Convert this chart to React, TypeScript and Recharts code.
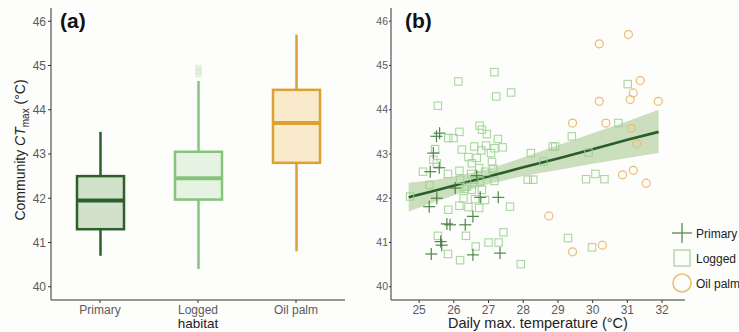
import { ComposedChart, Bar, XAxis, YAxis, Scatter, Area, Line } from 'recharts'

const FONT = '"Liberation Sans", Arial, sans-serif'

// panel (a): box plot per habitat
const habitats = ['Primary', 'Logged', 'Oil palm']
const whiskerLow = [40.7, 40.4, 40.8]
const lowerQuartile = [41.3, 41.97, 42.8]
const medians = [41.95, 42.45, 43.7]
const upperQuartile = [42.5, 43.05, 44.45]
const whiskerHigh = [43.5, 44.65, 45.7]
const outliers = [[], [44.8, 44.88, 44.95], []]
const ctTicks = [40, 41, 42, 43, 44, 45, 46]

const strokeColors = ['#2d5f2b', '#86c47b', '#dca132']
const fillColors = ['#d2e2ca', '#e7f3e2', '#f9eacb']

// panel (b): scatter vs daily max temperature
const primaryTemp = [25.59, 25.5, 25.41, 25.32, 25.58, 25.51, 25.29, 26.04, 26.66, 26.76, 27.28, 26.55, 25.8, 25.89, 26.33, 25.65, 25.62, 25.35, 26.55, 27.33]
const primaryCt = [43.47, 43.4, 43.02, 42.6, 42.69, 42.0, 41.81, 42.23, 42.51, 42.02, 42.02, 41.59, 41.42, 41.4, 41.4, 40.94, 41.02, 40.74, 40.72, 40.76]

const loggedTemp = [
  25.54, 26.16, 26.74, 26.81, 26.95, 25.84, 25.99, 27.27, 25.46, 26.23, 26.59, 26.79, 26.93, 27.17, 27.41,
  27.07, 26.42, 26.66, 25.41, 25.51, 26.52, 27.1, 26.73, 25.11, 25.83, 26.16, 26.5, 26.9, 27.14, 26.59,
  26.18, 25.3, 26.37, 26.76, 27.17, 28.22, 28.58, 28.13, 28.29, 28.85, 28.92, 29.4, 24.74, 26.31, 26.52,
  26.81, 26.28, 26.61, 26.9, 26.16, 26.42, 26.73, 25.84, 27.62, 27.43, 25.54, 26.35, 27.0, 27.29, 26.63,
  25.83, 26.18, 27.93, 29.29, 26.13, 27.17, 27.65, 27.22, 31.01, 30.74, 29.88, 29.81, 30.08, 30.34, 29.98,
]
const loggedCt = [
  44.09, 43.5, 43.64, 43.55, 43.45, 43.36, 43.36, 43.34, 43.11, 43.1, 43.17, 43.08, 43.19, 43.13, 43.15,
  43.02, 42.93, 42.91, 42.87, 42.79, 42.79, 42.82, 42.68, 42.6, 42.55, 42.62, 42.55, 42.6, 42.67, 42.42,
  42.42, 42.3, 42.26, 42.38, 42.39, 43.02, 42.83, 42.42, 42.42, 43.17, 43.17, 43.4, 42.04, 42.21, 42.19,
  42.19, 42.0, 41.98, 41.96, 41.83, 41.8, 41.78, 41.74, 41.81, 41.23, 41.15, 41.15, 41.0, 41.0, 40.91,
  40.74, 40.6, 40.51, 41.1, 44.64, 44.85, 44.39, 44.3, 44.58, 43.7, 43.03, 42.43, 42.55, 42.43, 40.89,
]

const oilTemp = [31.03, 30.19, 30.19, 31.37, 31.17, 31.08, 31.89, 29.42, 30.38, 31.11, 31.27, 30.86, 31.17, 31.54, 28.74, 29.42, 30.28]
const oilCt = [45.7, 45.49, 44.19, 44.66, 44.38, 44.23, 44.19, 43.7, 43.7, 43.58, 43.23, 42.53, 42.63, 42.34, 41.6, 40.79, 40.94]

// fitted line and confidence band
const bandTemp = [24.7, 25.5, 26.5, 27.0, 28.0, 29.0, 30.0, 31.0, 31.9]
const bandLow = [41.7, 41.93, 42.2, 42.32, 42.5, 42.64, 42.78, 42.91, 43.02]
const bandHigh = [42.35, 42.42, 42.57, 42.66, 42.92, 43.2, 43.47, 43.74, 44.0]
const fitCt = [42.02, 42.18, 42.39, 42.49, 42.7, 42.9, 43.11, 43.32, 43.5]
const tempTicks = [25, 26, 27, 28, 29, 30, 31, 32]

const legendNames = ['Primary', 'Logged', 'Oil palm']

const boxData = habitats.map((h, i) => ({
  habitat: h,
  lo: whiskerLow[i],
  q1: lowerQuartile[i],
  med: medians[i],
  q3: upperQuartile[i],
  hi: whiskerHigh[i],
  out: outliers[i],
}))

const primaryPts = primaryTemp.map((x, i) => ({ x, y: primaryCt[i] }))
const loggedPts = loggedTemp.map((x, i) => ({ x, y: loggedCt[i] }))
const oilPts = oilTemp.map((x, i) => ({ x, y: oilCt[i] }))
const bandData = bandTemp.map((x, i) => ({ x, low: bandLow[i], high: bandHigh[i], fit: fitCt[i] }))

const tickStyle = { fontSize: 12, fill: '#5b5b5b', fontFamily: FONT }

function BoxShape(props: any) {
  const { x, y, width, height, payload } = props
  const i = habitats.indexOf(payload.habitat)
  const ppu = height / (payload.q3 - payload.q1)
  const toY = (v: number) => y + (payload.q3 - v) * ppu
  const cx = x + width / 2
  const stroke = strokeColors[i]
  return (
    <g>
      <line x1={cx} x2={cx} y1={toY(payload.hi)} y2={y} stroke={stroke} strokeWidth={2.5} />
      <line x1={cx} x2={cx} y1={y + height} y2={toY(payload.lo)} stroke={stroke} strokeWidth={2.5} />
      <rect x={x} y={y} width={width} height={height} fill={fillColors[i]} stroke={stroke} strokeWidth={2.5} />
      <line x1={x} x2={x + width} y1={toY(payload.med)} y2={toY(payload.med)} stroke={stroke} strokeWidth={4} />
      {payload.out.map((v: number, k: number) => (
        <rect key={k} x={cx - 2.5} y={toY(v) - 2.5} width={5} height={5} fill="#dcefd6" stroke="#cbe6c4" strokeWidth={0.8} opacity={0.7} />
      ))}
    </g>
  )
}

function Cross(props: any) {
  const { cx, cy } = props
  return (
    <g stroke="#3c7a38" strokeWidth={1.2} opacity={0.9}>
      <line x1={cx - 6} x2={cx + 6} y1={cy} y2={cy} />
      <line x1={cx} x2={cx} y1={cy - 6} y2={cy + 6} />
    </g>
  )
}

function Square(props: any) {
  const { cx, cy } = props
  return <rect x={cx - 3.7} y={cy - 3.7} width={7.4} height={7.4} fill="none" stroke="#9bcf91" strokeWidth={1.1} opacity={0.85} />
}

function Ring(props: any) {
  const { cx, cy } = props
  return <circle cx={cx} cy={cy} r={4} fill="none" stroke="#ebbd6e" strokeWidth={1.2} />
}

function YTitle() {
  return (
    <text transform="translate(25,150) rotate(-90)" textAnchor="middle" fontSize={14} fill="#222" fontFamily={FONT}>
      Community <tspan fontStyle="italic">CT</tspan>
      <tspan fontSize={10} dy={4}>max</tspan>
      <tspan dy={-4}>{'  (°C)'}</tspan>
    </text>
  )
}

function LegendBox() {
  return (
    <svg width={80} height={76} style={{ overflow: 'visible' }}>
      {legendNames.map((n, i) => {
        const cy = 11 + i * 25
        return (
          <g key={n}>
            {i === 0 && (
              <g stroke="#4f8e49" strokeWidth={1.3}>
                <line x1={2} x2={22} y1={cy} y2={cy} />
                <line x1={12} x2={12} y1={cy - 10} y2={cy + 10} />
              </g>
            )}
            {i === 1 && <rect x={4} y={cy - 8} width={16} height={16} fill="none" stroke="#a7d49d" strokeWidth={1.3} />}
            {i === 2 && <circle cx={12} cy={cy} r={9} fill="none" stroke="#ebbd6e" strokeWidth={1.5} />}
            <text x={26} y={cy + 4.5} fontSize={12} fill="#222" fontFamily={FONT}>{n}</text>
          </g>
        )
      })}
    </svg>
  )
}

export default function App() {
  return (
    <div style={{ position: 'absolute', left: 0, top: 0, width: 739, height: 332, background: '#fdfdfb', overflow: 'hidden', fontFamily: FONT }}>
      <div style={{ position: 'absolute', left: 0, top: 0 }}>
        <ComposedChart width={370} height={332} data={boxData} margin={{ top: 8, right: 25, bottom: 0, left: 0 }}>
          <XAxis
            dataKey="habitat"
            height={32}
            tick={tickStyle}
            tickSize={3}
            stroke="#333"
            label={{ value: 'habitat', position: 'insideBottom', offset: 4, fontSize: 13.5, fill: '#222', fontFamily: FONT }}
          />
          <YAxis
            domain={[39.7, 46.3]}
            ticks={ctTicks}
            width={51}
            tick={tickStyle}
            tickSize={3}
            stroke="#333"
            allowDataOverflow
            label={{ content: () => <YTitle /> }}
          />
          <Bar dataKey={(d: any) => [d.q1, d.q3]} barSize={47} shape={BoxShape} isAnimationActive={false} />
        </ComposedChart>
      </div>
      <div style={{ position: 'absolute', left: 60, top: 8, fontSize: 21, fontWeight: 'bold', color: '#111', lineHeight: '26px', fontFamily: FONT }}>(a)</div>

      <div style={{ position: 'absolute', left: 370, top: 0 }}>
        <ComposedChart width={369} height={332} data={bandData} margin={{ top: 8, right: 54, bottom: 0, left: 0 }}>
          <XAxis
            dataKey="x"
            type="number"
            domain={[24.19, 32.66]}
            ticks={tempTicks}
            allowDataOverflow
            height={32}
            tick={tickStyle}
            tickSize={3}
            stroke="#333"
            label={{ value: 'Daily max. temperature (°C)', position: 'insideBottom', offset: 4, fontSize: 14.5, fill: '#222', fontFamily: FONT }}
          />
          <YAxis
            type="number"
            domain={[39.7, 46.3]}
            ticks={ctTicks}
            allowDataOverflow
            width={21}
            tick={{ ...tickStyle, fontSize: 10.5 }}
            tickSize={2}
            tickMargin={1}
            stroke="#333"
          />
          <Area dataKey={(d: any) => [d.low, d.high]} stroke="none" fill="#b9d4ab" fillOpacity={0.75} legendType="none" isAnimationActive={false} />
          <Scatter data={loggedPts} dataKey="y" shape={Square} isAnimationActive={false} />
          <Scatter data={oilPts} dataKey="y" shape={Ring} isAnimationActive={false} />
          <Scatter data={primaryPts} dataKey="y" shape={Cross} isAnimationActive={false} />
          <Line dataKey="fit" stroke="#2a5e28" strokeWidth={2.6} dot={false} legendType="none" isAnimationActive={false} />
        </ComposedChart>
      </div>
      <div style={{ position: 'absolute', left: 405, top: 8, fontSize: 21, fontWeight: 'bold', color: '#111', lineHeight: '26px', fontFamily: FONT }}>(b)</div>
      <div style={{ position: 'absolute', left: 670, top: 222 }}>
        <LegendBox />
      </div>
    </div>
  )
}
